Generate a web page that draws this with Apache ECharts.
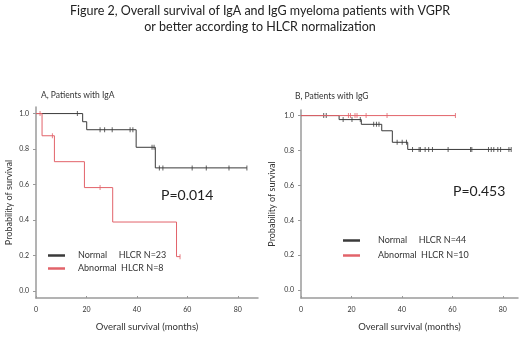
<!DOCTYPE html>
<html>
<head>
<meta charset="utf-8">
<script src="https://cdn.jsdelivr.net/npm/echarts@6/dist/echarts.min.js"></script>
<style>
  html, body { margin: 0; padding: 0; background: #fff; }
  #chart { width: 520px; height: 337px; }
</style>
</head>
<body>
<div id="chart"></div>
<script>
// --- data (months / survival probability) ---
var xTicks = [0, 20, 40, 60, 80];
var yTicks = [0, 0.2, 0.4, 0.6, 0.8, 1.0];

// A, IgA
var igaNormalName = 'Normal     HLCR N=23';
var igaNormalTime = [0, 18.5, 20.1, 39.7, 47.3, 83.6];
var igaNormalSurv = [1, 0.954, 0.909, 0.81, 0.694, 0.694];
var igaNormalCens = [16.4, 25.4, 27.2, 30.2, 37.3, 38.4, 46.0, 46.8, 48.9, 50.3, 61.9, 67.5, 76.5, 83.6];

var igaAbnName = 'Abnormal  HLCR N=8';
var igaAbnTime = [0, 2.4, 7.3, 19.2, 30.4, 55.7, 57.1];
var igaAbnSurv = [1, 0.875, 0.729, 0.583, 0.389, 0.194, 0.194];
var igaAbnCens = [1.6, 6.5, 25.4, 57.1];

// B, IgG
var iggNormalName = 'Normal     HLCR N=44';
var iggNormalTime = [0, 15.1, 23.9, 32.0, 36.2, 42.3, 83.3];
var iggNormalSurv = [1, 0.977, 0.95, 0.913, 0.847, 0.806, 0.806];
var iggNormalCens = [9.0, 10.0, 16.7, 20.2, 23.5, 28.8, 29.9, 30.9, 38.1, 40.1, 41.8, 44.2, 46.8, 47.3,
  49.2, 50.6, 52.1, 58.3, 67.2, 67.7, 74.3, 75.4, 76.4, 78.0, 79.1, 82.4, 83.3];

var iggAbnName = 'Abnormal  HLCR N=10';
var iggAbnTime = [0, 61.2];
var iggAbnSurv = [1, 1];
var iggAbnCens = [18.8, 19.6, 21.4, 22.2, 25.8, 34.1, 61.2];

var pLeft = 'P=0.014';
var pRight = 'P=0.453';

var BLACK = '#3a3a3a';
var RED = '#e2636a';
var FONT = 'Lato';

function zip(t, s) {
  return t.map(function (v, i) { return [v, s[i]]; });
}
function survAt(t, s, x) {
  var v = s[0];
  for (var i = 0; i < t.length; i++) { if (t[i] <= x) v = s[i]; }
  return v;
}
function censPoints(t, s, c) {
  return c.map(function (x) { return [x, survAt(t, s, x)]; });
}

function xAx(gi, max) {
  return {
    gridIndex: gi, type: 'value', min: 0, max: max,
    axisLine: { onZero: false, lineStyle: { color: '#9a9a9a', width: 1.5 } },
    axisTick: { inside: true, length: 2, customValues: xTicks, lineStyle: { color: '#9a9a9a' } },
    axisLabel: { customValues: xTicks, color: '#333', fontSize: 7, fontFamily: FONT, margin: 8 },
    splitLine: { show: false },
    name: 'Overall survival (months)', nameLocation: 'middle', nameGap: 24,
    nameTextStyle: { color: '#333', fontSize: 9.5, fontFamily: FONT }
  };
}
function yAx(gi, min, max, gap) {
  return {
    gridIndex: gi, type: 'value', min: min, max: max,
    axisLine: { show: true, onZero: false, lineStyle: { color: '#9a9a9a', width: 1.5 } },
    axisTick: { show: true, length: 3, customValues: yTicks, lineStyle: { color: '#9a9a9a' } },
    axisLabel: { customValues: yTicks, color: '#333', fontSize: 7, fontFamily: FONT, margin: 7,
      formatter: function (v) { return v.toFixed(1); } },
    splitLine: { show: false },
    name: 'Probability of survival', nameLocation: 'middle', nameGap: gap, nameRotate: 90,
    nameTextStyle: { color: '#333', fontSize: 9, fontFamily: FONT }
  };
}
function stepSeries(name, gi, t, s, color) {
  return {
    name: name, type: 'line', xAxisIndex: gi, yAxisIndex: gi, step: 'end',
    data: zip(t, s), showSymbol: false, symbol: 'none', silent: true,
    lineStyle: { color: color, width: 1 }, itemStyle: { color: color }
  };
}
function censSeries(gi, t, s, c, color) {
  return {
    type: 'scatter', xAxisIndex: gi, yAxisIndex: gi, silent: true,
    data: censPoints(t, s, c), symbol: 'rect', symbolSize: [1, 5],
    itemStyle: { color: color }
  };
}

var chart = echarts.init(document.getElementById('chart'));
chart.setOption({
  backgroundColor: '#fff',
  animation: false,
  title: [
    { text: 'Figure 2, Overall survival of IgA and IgG myeloma patients with VGPR\nor better according to HLCR normalization',
      left: 'center', top: -2,
      textStyle: { fontSize: 12.5, fontWeight: 'normal', color: '#222', fontFamily: FONT, lineHeight: 16, align: 'center' } },
    { text: 'A, Patients with IgA', left: 36, top: 86,
      textStyle: { fontSize: 8.5, fontWeight: 'normal', color: '#333', fontFamily: FONT } },
    { text: 'B, Patients with IgG', left: 290, top: 87,
      textStyle: { fontSize: 8.5, fontWeight: 'normal', color: '#333', fontFamily: FONT } },
    { text: pLeft, left: 156, top: 183,
      textStyle: { fontSize: 14, fontWeight: 'normal', color: '#222', fontFamily: FONT } },
    { text: pRight, left: 448, top: 179,
      textStyle: { fontSize: 14, fontWeight: 'normal', color: '#222', fontFamily: FONT } }
  ],
  legend: [
    { data: [igaNormalName, igaAbnName], orient: 'vertical', left: 43, top: 246,
      icon: 'rect', itemWidth: 17, itemHeight: 2.5, itemGap: 4,
      textStyle: { fontSize: 9, color: '#333', fontFamily: FONT, padding: [0, 0, 0, 8] } },
    { data: [iggNormalName, iggAbnName], orient: 'vertical', left: 338, top: 231,
      icon: 'rect', itemWidth: 17, itemHeight: 2.5, itemGap: 6,
      textStyle: { fontSize: 9, color: '#333', fontFamily: FONT, padding: [0, 0, 0, 13] } }
  ],
  grid: [
    { left: 36, top: 107, width: 222, height: 194 },
    { left: 301, top: 110, width: 217, height: 192 }
  ],
  xAxis: [xAx(0, 88), xAx(1, 86)],
  yAxis: [yAx(0, -0.039, 1.037, 22), yAx(1, -0.045, 1.032, 24)],
  series: [
    stepSeries(igaNormalName, 0, igaNormalTime, igaNormalSurv, BLACK),
    stepSeries(igaAbnName, 0, igaAbnTime, igaAbnSurv, RED),
    censSeries(0, igaNormalTime, igaNormalSurv, igaNormalCens, BLACK),
    censSeries(0, igaAbnTime, igaAbnSurv, igaAbnCens, RED),
    stepSeries(iggNormalName, 1, iggNormalTime, iggNormalSurv, BLACK),
    stepSeries(iggAbnName, 1, iggAbnTime, iggAbnSurv, RED),
    censSeries(1, iggNormalTime, iggNormalSurv, iggNormalCens, BLACK),
    censSeries(1, iggAbnTime, iggAbnSurv, iggAbnCens, RED)
  ]
});
</script>
</body>
</html>
